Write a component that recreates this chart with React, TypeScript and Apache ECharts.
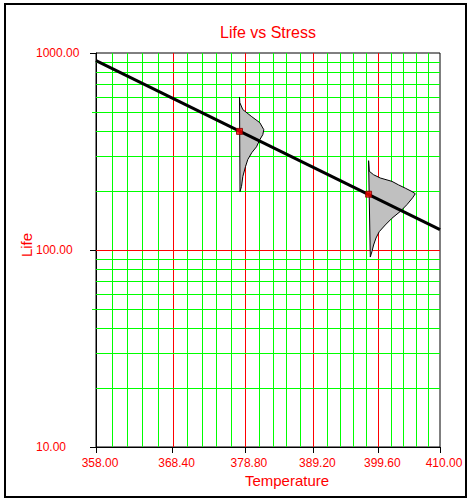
import React, { useEffect, useRef } from 'react';
import * as echarts from 'echarts';

// ---- data ----
const tempTicks = [358.0, 368.4, 378.8, 389.2, 399.6, 410.0];
const minorDivisions = 5;
const lifeDecades = [10, 100, 1000];
const lifeLineTemps = [358, 410];
const lifeLineValues = [914, 127];
const stressTemps = [378, 398];
const stressLives = [400, 192];
const pdf1Life = [598, 560, 516, 475, 443, 408, 385, 363, 334, 312, 288, 265, 236, 210, 198];
const pdf1Density = [0, 0.006, 0.066, 0.246, 0.406, 0.486, 0.466, 0.406, 0.34, 0.246, 0.166, 0.12, 0.066, 0.04, 0.01];
const pdf2Life = [284, 251, 241, 232, 223, 214, 206, 198, 193, 184, 170, 157, 145, 134, 124, 115, 106, 98.4, 92.1];
const pdf2Density = [0, 0.014, 0.1, 0.234, 0.468, 0.6, 0.734, 0.868, 0.934, 0.88, 0.768, 0.634, 0.468, 0.334, 0.214, 0.148, 0.1, 0.068, 0.034];

const pdfLives = [pdf1Life, pdf2Life];
const pdfDensities = [pdf1Density, pdf2Density];

const FONT = '"Liberation Sans", Arial, sans-serif';
const RED = '#ff0000';
const GREEN = '#00ff00';
const PDF_SCALE = 50;

export default function App() {
  const ref = useRef<HTMLDivElement>(null);
  useEffect(() => {
    if (!ref.current) return;
    const chart = echarts.init(ref.current, undefined, { renderer: 'svg' });

    // vertical grid lines (inside the plot, excluding the edges)
    const vLines: number[][] = [];
    for (let i = 0; i < tempTicks.length - 1; i++) {
      const a = tempTicks[i];
      const b = tempTicks[i + 1];
      for (let k = 0; k < minorDivisions; k++) {
        const t = a + ((b - a) * k) / minorDivisions;
        if (i === 0 && k === 0) continue;
        vLines.push([1 / t, 10, k === 0 ? 1 : 0]);
      }
    }
    // horizontal grid lines
    const hLines: number[][] = [];
    for (let d = 0; d < lifeDecades.length - 1; d++) {
      const base = lifeDecades[d];
      for (let m = 1; m <= 9; m++) {
        if (d === 0 && m === 1) continue;
        const v = base * m;
        hLines.push([1 / 358, v, m === 1 ? 1 : 0, m === 5 ? 1 : 0]);
      }
    }

    const xVals = tempTicks.map((t) => 1 / t);
    const snap = (v: number) => Math.round(v) + 0.5;

    chart.setOption({
      animation: false,
      grid: {
        left: 96,
        top: 53,
        right: 30,
        bottom: 54,
        show: true,
        borderColor: '#000',
        borderWidth: 1,
        backgroundColor: 'transparent',
        containLabel: false,
        outerBoundsMode: 'none',
      },
      xAxis: {
        type: 'value',
        inverse: true,
        min: 1 / 410,
        max: 1 / 358,
        axisLine: { show: true, lineStyle: { color: '#000', width: 1 } },
        axisTick: { show: true, length: 6, customValues: xVals, lineStyle: { color: '#000' } },
        axisLabel: {
          customValues: xVals,
          formatter: (v: number) => (1 / v).toFixed(2),
          color: RED,
          fontSize: 12,
          fontFamily: FONT,
          margin: 10,
          padding: [0, 0, 0, 8],
        },
        splitLine: { show: false },
      },
      yAxis: {
        type: 'log',
        logBase: 10,
        min: 10,
        max: 1000,
        axisLine: { show: true, lineStyle: { color: '#000', width: 1 } },
        axisTick: { show: true, length: 6, lineStyle: { color: '#000' } },
        axisLabel: {
          formatter: (v: number) => Number(v).toFixed(2),
          color: RED,
          fontSize: 12,
          fontFamily: FONT,
          align: 'left',
          margin: 60,
        },
        splitLine: { show: false },
        minorTick: { show: false },
      },
      graphic: [
        {
          type: 'rect',
          shape: { x: 5, y: 4, width: 461, height: 493 },
          style: { fill: 'none', stroke: '#000', lineWidth: 2 },
          silent: true,
        },
        {
          type: 'text',
          x: 268,
          y: 32,
          style: { text: 'Life vs Stress', fill: RED, fontSize: 16, fontFamily: FONT, align: 'center', verticalAlign: 'middle' },
        },
        {
          type: 'text',
          x: 287,
          y: 480,
          style: { text: 'Temperature', fill: RED, fontSize: 15, fontFamily: FONT, align: 'center', verticalAlign: 'middle' },
        },
        {
          type: 'text',
          x: 26,
          y: 245,
          rotation: Math.PI / 2,
          style: { text: 'Life', fill: RED, fontSize: 15, fontFamily: FONT, align: 'center', verticalAlign: 'middle' },
        },
      ],
      series: [
        {
          type: 'custom',
          name: 'vgrid',
          z: 1,
          silent: true,
          clip: false,
          data: vLines,
          renderItem: (params: any, api: any) => {
            const x = api.value(0);
            const major = api.value(2);
            const p1 = api.coord([x, 10]);
            const p2 = api.coord([x, 1000]);
            const sx = snap(p1[0]);
            return {
              type: 'line',
              shape: { x1: sx, y1: p1[1], x2: sx, y2: p2[1] },
              style: { stroke: major ? RED : GREEN, lineWidth: 1 },
            };
          },
        },
        {
          type: 'custom',
          name: 'hgrid',
          z: 1,
          silent: true,
          clip: false,
          data: hLines,
          renderItem: (params: any, api: any) => {
            const v = api.value(1);
            const major = api.value(2);
            const half = api.value(3);
            const p1 = api.coord([1 / 358, v]);
            const p2 = api.coord([1 / 410, v]);
            const sy = snap(p1[1]);
            return {
              type: 'line',
              shape: { x1: p1[0] - (half ? 4 : 0), y1: sy, x2: p2[0], y2: sy },
              style: { stroke: major ? RED : GREEN, lineWidth: 1 },
            };
          },
        },
        {
          type: 'custom',
          name: 'pdf',
          z: 2,
          silent: true,
          clip: false,
          data: stressTemps.map((t, i) => [1 / t, stressLives[i]]),
          renderItem: (params: any, api: any) => {
            const idx = params.dataIndex;
            const x = api.value(0);
            const lives = pdfLives[idx];
            const dens = pdfDensities[idx];
            const points = lives.map((L, i) => {
              const p = api.coord([x, L]);
              return [p[0] + dens[i] * PDF_SCALE, p[1]];
            });
            return {
              type: 'polygon',
              shape: { points },
              style: { fill: '#c0c0c0', stroke: '#000', lineWidth: 1 },
            };
          },
        },
        {
          type: 'line',
          name: 'life',
          z: 3,
          showSymbol: false,
          symbol: 'none',
          data: lifeLineTemps.map((t, i) => [1 / t, lifeLineValues[i]]),
          lineStyle: { color: '#000', width: 3 },
        },
        {
          type: 'scatter',
          name: 'points',
          z: 4,
          symbol: 'rect',
          symbolSize: 6,
          data: stressTemps.map((t, i) => [1 / t, stressLives[i]]),
          itemStyle: { color: RED, borderColor: '#800000', borderWidth: 1 },
        },
      ],
    });
    return () => chart.dispose();
  }, []);
  return (
    <div
      ref={ref}
      style={{ position: 'fixed', left: 0, top: 0, width: 470, height: 501, background: '#fff' }}
    />
  );
}
